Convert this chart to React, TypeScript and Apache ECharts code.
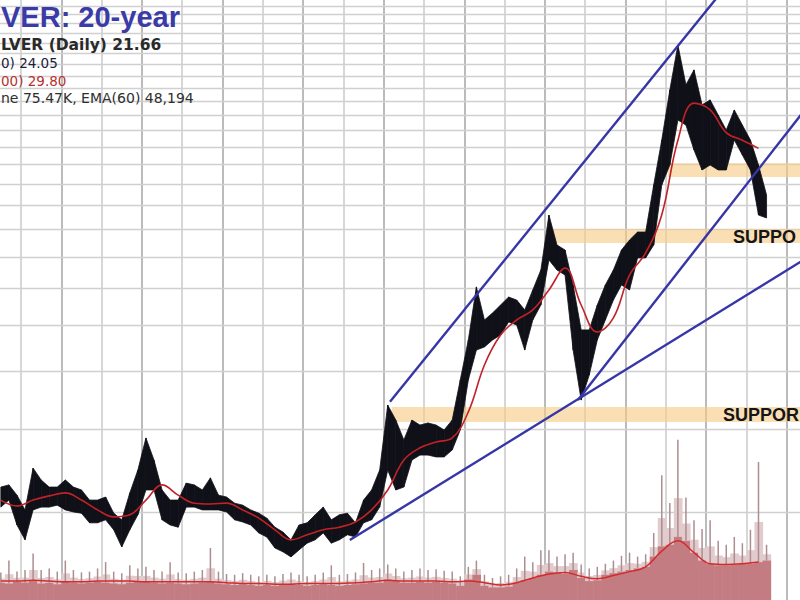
import React, { useEffect, useRef } from "react";
import * as echarts from "echarts";

// ---------- data ----------
// price samples every 0.2 year starting mid-1994
const SAMPLE_START = 1994.5;
const SAMPLE_STEP = 0.2;
const priceHigh = [
  5.65, 5.71, 5.43, 5.05, 6.2, 5.85, 5.65, 5.65, 5.85, 5.65,
  5.57, 5.3, 5.3, 5.38, 4.97, 4.81, 5.49, 6.14, 7.19, 6.45,
  5.57, 5.3, 5.3, 5.76, 5.71, 5.57, 5.91, 5.43, 5.38, 5.22,
  5.17, 5.05, 4.97, 4.85, 4.64, 4.53, 4.36, 4.69, 4.74, 4.93,
  5.12, 4.81, 4.93, 4.97, 4.74, 5.3, 5.57, 6.14, 8.45, 7.85,
  7.12, 7.85, 7.66, 7.74, 7.66, 7.48, 7.85, 9.56, 11.63, 15.09,
  12.83, 13.28, 13.81, 14.36, 14.15, 13.48, 14.87, 16.4, 21.48, 18.54,
  18.09, 15.24, 12.22, 12.22, 13.81, 15.24, 16.4, 18.09, 19.0, 19.76,
  19.76, 24.9, 31.04, 39.7, 49.5, 40.7, 43.8, 36.9, 37.8, 35.1,
  32.6, 35.98, 33.4, 31.04, 27.46, 23.7,
];
const priceLow = [
  5.12, 5.3, 4.69, 4.36, 5.05, 5.12, 5.12, 5.17, 5.05, 5.0,
  4.97, 4.74, 4.74, 4.81, 4.58, 4.21, 4.58, 4.93, 5.57, 5.57,
  4.81, 4.69, 4.64, 5.12, 5.12, 5.05, 5.05, 5.05, 5.0, 4.81,
  4.76, 4.69, 4.51, 4.42, 4.19, 4.11, 4.01, 4.15, 4.29, 4.36,
  4.51, 4.29, 4.36, 4.47, 4.42, 4.74, 4.81, 5.12, 6.14, 5.57,
  5.65, 6.45, 6.61, 6.61, 6.55, 6.55, 6.78, 7.48, 9.56, 11.07,
  11.24, 11.63, 11.92, 12.71, 12.52, 11.07, 12.83, 13.81, 17.23, 16.4,
  16.0, 11.07, 8.66, 9.79, 11.63, 12.83, 14.15, 15.24, 14.87, 17.4,
  17.4, 18.54, 24.9, 27.46, 34.25, 33.4, 29.56, 26.8, 27.46, 26.8,
  26.8, 31.04, 28.84, 26.8, 21.48, 21.17,
];
// volume (thousands of contracts): body level and tallest spike per sample
const volBase = [
  22, 21, 23, 22, 24, 21, 22, 20, 23, 22,
  21, 22, 23, 22, 21, 20, 22, 24, 23, 22,
  21, 22, 21, 20, 21, 22, 23, 21, 20, 19,
  20, 19, 18, 19, 18, 19, 20, 19, 18, 19,
  20, 19, 18, 19, 20, 21, 22, 22, 26, 24,
  22, 22, 23, 22, 23, 22, 21, 18, 26, 32,
  18, 16, 16, 17, 22, 25, 28, 32, 36, 35,
  33, 38, 28, 24, 25, 32, 34, 36, 38, 40,
  42, 55, 68, 70, 80, 75, 60, 50, 46, 44,
  44, 45, 46, 46, 48, 50,
];
const volPeak = [
  35, 50, 36, 38, 59, 38, 40, 36, 50, 38,
  35, 36, 40, 48, 36, 34, 44, 40, 42, 38,
  36, 48, 35, 34, 36, 38, 66, 36, 33, 32,
  34, 32, 30, 32, 30, 33, 35, 32, 30, 32,
  35, 44, 32, 33, 35, 47, 38, 40, 45, 40,
  36, 38, 40, 38, 39, 37, 36, 30, 42, 50,
  32, 28, 30, 32, 40, 55, 48, 63, 63, 55,
  58, 60, 45, 40, 42, 46, 50, 56, 60, 55,
  58, 85, 158, 123, 203, 130, 101, 90, 101, 75,
  70, 80, 72, 89, 175, 70,
];
// moving averages, every 0.4 year
const MA_START = 1994.5;
const MA_STEP = 0.4;
const ma200 = [
  5.3, 5.15, 5.3, 5.41, 5.49, 5.3, 5.05, 4.88, 4.93, 5.3,
  5.71, 5.43, 5.22, 5.2, 5.22, 5.05, 4.85, 4.58, 4.36, 4.47,
  4.58, 4.64, 4.76, 5.05, 5.57, 6.45, 6.85, 7.05, 7.19, 8.17,
  10.29, 11.92, 12.83, 13.48, 14.87, 16.56, 13.81, 12.1, 12.96, 16.0,
  17.83, 21.5, 31.0, 37.2, 35.98, 32.2, 31.0, 29.8,
];
const volEma = [
  24, 24, 25, 24, 23, 23, 24, 24, 24, 23,
  23, 23, 23, 23, 22, 21, 21, 20, 20, 21,
  21, 21, 22, 23, 25, 24, 24, 24, 23, 24,
  22, 19, 22, 28, 33, 35, 30, 27, 31, 36,
  42, 62, 75, 60, 46, 45, 46, 48.2,
];
// price grid lines (log scale, every $2.50)
const gridPrices = [
  5, 7.5, 10, 12.5, 15, 17.5, 20, 22.5, 25, 27.5, 30, 32.5, 35, 37.5,
  40, 42.5, 45, 47.5, 50, 52.5, 55, 57.5, 60, 62.5, 65, 67.5, 70,
];
// blue trend lines: [year, price] pairs
const trendUpper = [[2004.156, 8.59], [2012.42, 64.8]];
const trendMid = [[2008.82, 8.66], [2014.58, 37.2]];
const trendLow = [[2003.16, 4.357], [2014.58, 17.57]];
// orange support bands
const bandStart = [2011.05, 2008.08, 2004.2];
const bandLow = [25.9, 18.73, 7.78];
const bandHigh = [27.7, 20.06, 8.37];

// texts as they appear in the (cropped) picture
const TITLE = "VER: 20-year";
const legendTexts = [
  "LVER (Daily) 21.66",
  "0) 24.05",
  "00) 29.80",
  "ne 75.47K, EMA(60) 48,194",
];
const supportTexts = ["SUPPO", "SUPPOR"];

// ---------- layout ----------
const OX = 60;
const OY = 40;
const W = 920;
const H = 660;

export default function App() {
  const ref = useRef<HTMLDivElement>(null);
  useEffect(() => {
    if (!ref.current) return;
    const chart = echarts.init(ref.current, undefined, { renderer: "svg" });
    const years = priceHigh.map((_, i) => +(SAMPLE_START + SAMPLE_STEP * i).toFixed(2));
    const maYears = ma200.map((_, j) => +(MA_START + MA_STEP * j).toFixed(2));
    const half = SAMPLE_STEP / 2;
    const trendStyle = { color: "#3636a6", width: 2.4 };
    const mkTrend = (d: number[][]) => ({
      type: "line",
      xAxisIndex: 0,
      yAxisIndex: 0,
      data: d,
      symbol: "none",
      silent: true,
      lineStyle: trendStyle,
      z: 7,
    });
    const txt = (text: string, x: number, y: number, font: string, fill: string) => ({
      type: "text",
      x: x + OX,
      y: y + OY,
      z: 100,
      style: { text, font, fill, verticalAlign: "middle" },
    });
    const option: any = {
      animation: false,
      backgroundColor: "#ffffff",
      grid: [
        { left: 40.7, right: 33, top: 10, bottom: 20 },
        { left: 40.7, right: 33, top: 442.8, bottom: 20 },
      ],
      xAxis: [
        {
          type: "value",
          gridIndex: 0,
          min: 1994,
          max: 2015,
          interval: 1,
          axisLine: { show: false },
          axisTick: { show: false },
          axisLabel: { show: false },
          splitLine: { show: true, lineStyle: { color: ["#a4a4a4", "#cacaca"], width: 1.5 } },
        },
        { type: "value", gridIndex: 1, min: 1994, max: 2015, show: false, splitLine: { show: false } },
      ],
      yAxis: [
        {
          type: "log",
          logBase: 10,
          gridIndex: 0,
          min: 3.245,
          max: 71.53,
          axisLine: { show: false },
          axisTick: { show: false },
          axisLabel: { show: false },
          splitLine: { show: false },
        },
        { type: "value", gridIndex: 1, min: 0, max: 250, show: false, splitLine: { show: false } },
      ],
      series: [
        {
          type: "line",
          xAxisIndex: 0,
          yAxisIndex: 0,
          data: [],
          silent: true,
          z: 1,
          markLine: {
            silent: true,
            z: 1,
            symbol: ["none", "none"],
            label: { show: false },
            emphasis: { disabled: true },
            lineStyle: { color: "#d0d0d0", width: 1.4, type: "solid" },
            data: gridPrices.map((p) => ({ yAxis: p })),
          },
          markArea: {
            silent: true,
            z: 2,
            itemStyle: { color: "rgba(247,203,135,0.62)" },
            emphasis: { disabled: true },
            data: bandStart.map((s, k) => [
              { xAxis: s, yAxis: bandLow[k] },
              { xAxis: 2015, yAxis: bandHigh[k] },
            ]),
          },
        },
        // volume: light fringe of dense daily spikes, body, tallest spike
        {
          type: "custom",
          xAxisIndex: 1,
          yAxisIndex: 1,
          z: 3,
          silent: true,
          data: years.map((y, i) => [y, volBase[i], volPeak[i]]),
          renderItem: (params: any, api: any) => {
            const i = params.dataIndex;
            const mid = volBase[i] + (volPeak[i] - volBase[i]) * 0.4;
            const f = api.coord([years[i] - half, mid]);
            const a = api.coord([years[i] - half, volBase[i]]);
            const b = api.coord([years[i] + half, 0]);
            const s1 = api.coord([years[i], volBase[i]]);
            const s2 = api.coord([years[i], volPeak[i]]);
            const w = b[0] - a[0] + 0.6;
            return {
              type: "group",
              children: [
                {
                  type: "rect",
                  shape: { x: f[0], y: f[1], width: w, height: a[1] - f[1] + 1 },
                  style: { fill: "#e2cbcd" },
                },
                {
                  type: "rect",
                  shape: { x: a[0], y: a[1], width: w, height: b[1] - a[1] },
                  style: { fill: "#c47c83" },
                },
                {
                  type: "line",
                  shape: { x1: s1[0], y1: s1[1], x2: s2[0], y2: s2[1] },
                  style: { stroke: "#ad8d90", lineWidth: 1.5 },
                },
              ],
            };
          },
        },
        {
          type: "line",
          xAxisIndex: 1,
          yAxisIndex: 1,
          data: maYears.map((y, j) => [y, volEma[j]]),
          smooth: 0.4,
          symbol: "none",
          silent: true,
          lineStyle: { color: "#d42a2a", width: 1.5 },
          z: 4,
        },
        // price band
        {
          type: "custom",
          xAxisIndex: 0,
          yAxisIndex: 0,
          z: 5,
          silent: true,
          data: years.map((y, i) => [y, priceLow[i], priceHigh[i]]),
          encode: { x: 0, y: [1, 2] },
          renderItem: (params: any, api: any) => {
            const i = params.dataIndex;
            if (i >= years.length - 1) return { type: "group", children: [] };
            const pts = [
              api.coord([years[i], priceHigh[i]]),
              api.coord([years[i + 1], priceHigh[i + 1]]),
              api.coord([years[i + 1], priceLow[i + 1]]),
              api.coord([years[i], priceLow[i]]),
            ];
            return {
              type: "polygon",
              shape: { points: pts },
              style: { fill: "#101018", stroke: "#101018", lineWidth: 0.8 },
            };
          },
        },
        {
          type: "line",
          xAxisIndex: 0,
          yAxisIndex: 0,
          data: maYears.map((y, j) => [y, ma200[j]]),
          smooth: 0.4,
          symbol: "none",
          silent: true,
          lineStyle: { color: "#c02228", width: 1.6 },
          z: 6,
        },
        mkTrend(trendUpper),
        mkTrend(trendMid),
        mkTrend(trendLow),
      ],
      graphic: [
        txt(TITLE, 1, 17, 'bold 29px "Liberation Sans", Arial, sans-serif', "#3b3ba8"),
        txt(legendTexts[0], 1, 45, 'bold 15.5px "DejaVu Sans", sans-serif', "#2a2a2a"),
        txt(legendTexts[1], 1, 63, '13.5px "DejaVu Sans", sans-serif', "#20203a"),
        txt(legendTexts[2], 1, 81, '13.5px "DejaVu Sans", sans-serif', "#b83030"),
        txt(legendTexts[3], 1, 97.5, '14px "DejaVu Sans", sans-serif', "#2e2e2e"),
        txt(supportTexts[0], 733, 237, 'bold 18px "Liberation Sans", Arial, sans-serif', "#151515"),
        txt(supportTexts[1], 723, 415, 'bold 18px "Liberation Sans", Arial, sans-serif', "#151515"),
      ],
    };
    chart.setOption(option);
    return () => chart.dispose();
  }, []);
  return (
    <div
      style={{
        position: "fixed",
        left: 0,
        top: 0,
        width: 800,
        height: 600,
        overflow: "hidden",
        background: "#ffffff",
      }}
    >
      <div ref={ref} style={{ position: "absolute", left: -OX, top: -OY, width: W, height: H }} />
    </div>
  );
}
